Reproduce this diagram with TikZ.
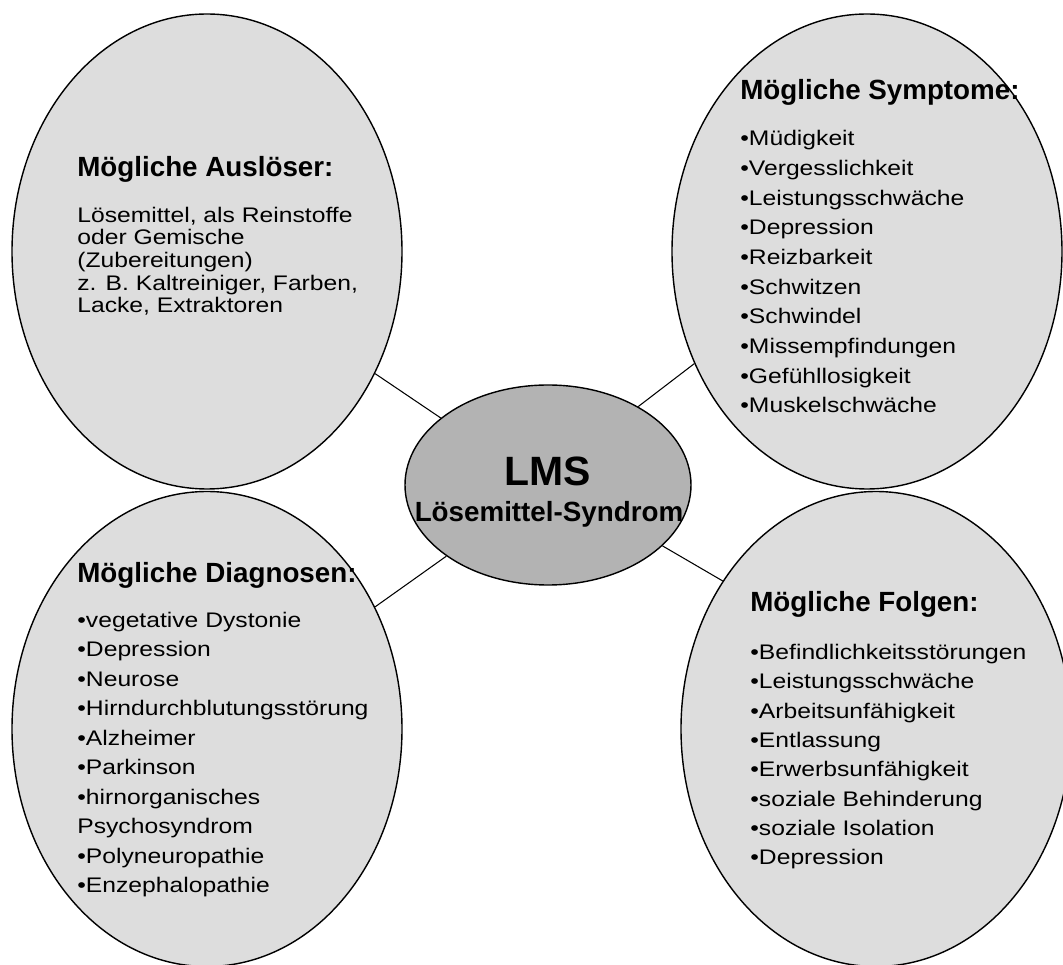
\documentclass[tikz,border=0pt]{standalone}
\usepackage{fontspec}
\setmainfont{Liberation Sans}
\newfontfamily\listfont{Liberation Sans}[FakeStretch=1.17]
\usetikzlibrary{shapes.geometric}
\definecolor{bubblegray}{HTML}{DDDDDD}
\definecolor{coregray}{HTML}{B3B3B3}
\begin{document}
\begin{tikzpicture}[
        bubble/.style={ellipse, draw, fill=bubblegray, line width=0.8pt,
            minimum width=7.8cm, minimum height=9.5cm, inner sep=0pt},
        core/.style={ellipse, draw, fill=coregray, line width=0.8pt,
            minimum width=5.72cm, minimum height=4cm, inner sep=0pt},
        head/.style={anchor=base west, inner sep=0pt,
            font=\fontsize{15.8}{18}\selectfont\bfseries},
        items/.style={anchor=base west, inner sep=0pt, align=left,
            font=\fontsize{12}{16.9}\listfont}
    ]
        \useasboundingbox (0,0) rectangle (21.26,19.3);
        \node[bubble] (ausl) at (4.14,14.27) {};
        \node[bubble] (sympt) at (17.34,14.27) {};
        \node[bubble] (diag) at (4.14,4.72) {};
        \node[bubble] (folg) at (17.52,4.72) {};
        \node[core] (lms) at (10.96,9.6) {};
        \draw[line width=0.6pt] (lms.148.5) -- (ausl.-36.2);
        \draw[line width=0.6pt] (lms.41.6) -- (sympt.-147.4);
        \draw[line width=0.6pt] (lms.215) -- (diag.36.1);
        \draw[line width=0.6pt] (lms.-28) -- (folg.136.8);

        \node[anchor=base, inner sep=0pt, font=\fontsize{23.3}{26}\selectfont\bfseries]
            (lmstitle) at (10.96,9.58) {LMS};
        \node[anchor=base, inner sep=0pt, font=\fontsize{15.8}{18}\selectfont\bfseries]
            (lmssub) at (10.98,8.86) {Lösemittel-Syndrom};

        % the base of a text block is the base of its last line
        \node[head] (auslhead) at (1.54,15.76) {Mögliche Auslöser:};
        \node[items, font=\fontsize{12}{12.9}\listfont] (ausltext) at (1.54,13.04)
            {Lösemittel, als Reinstoffe\\oder Gemische\\(Zubereitungen)\\z. B. Kaltreiniger, Farben,\\Lacke, Extraktoren};

        \node[head] (symphead) at (14.8,17.3) {Mögliche Symptome:};
        \node[items] (symptext) at (14.8,11.04)
            {•Müdigkeit\\•Vergesslichkeit\\•Leistungsschwäche\\•Depression\\•Reizbarkeit\\•Schwitzen\\•Schwindel\\•Missempfindungen\\•Gefühllosigkeit\\•Muskelschwäche};

        \node[head] (diaghead) at (1.54,7.64) {Mögliche Diagnosen:};
        \node[items, font=\fontsize{12}{16.8}\listfont] (diagtext) at (1.54,1.44)
            {•vegetative Dystonie\\•Depression\\•Neurose\\•Hirndurchblutungsstörung\\•Alzheimer\\•Parkinson\\•hirnorganisches\\Psychosyndrom\\•Polyneuropathie\\•Enzephalopathie};

        \node[head] (folghead) at (15.0,7.06) {Mögliche Folgen:};
        \node[items, font=\fontsize{12}{16.7}\listfont] (folgtext) at (15.0,2.0)
            {•Befindlichkeitsstörungen\\•Leistungsschwäche\\•Arbeitsunfähigkeit\\•Entlassung\\•Erwerbsunfähigkeit\\•soziale Behinderung\\•soziale Isolation\\•Depression};
    \end{tikzpicture}
\end{document}
